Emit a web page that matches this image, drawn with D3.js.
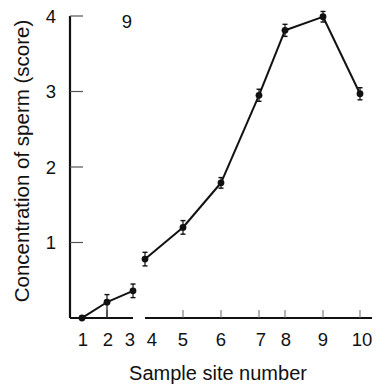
<!DOCTYPE html>
<html>
<head>
<meta charset="utf-8">
<script src="https://cdn.jsdelivr.net/npm/d3@7"></script>
<style>
  html, body { margin: 0; padding: 0; background: #fff; }
  svg { display: block; }
  text { font-family: "Liberation Sans", Arial, Helvetica, sans-serif; fill: #111; }
</style>
</head>
<body>
<svg id="chart" width="376" height="386"></svg>
<script>
// Sample sites along the tract, distance from site 1 (arbitrary units)
const sites = [1, 2, 3, 4, 5, 6, 7, 8, 9, 10];
const siteDistance = [0, 25, 51, 63, 101, 139, 177, 203, 241, 278];
// Mean sperm concentration score per site, with error limits
const meanScore = [0.0, 0.21, 0.36, 0.78, 1.2, 1.79, 2.95, 3.81, 3.99, 2.97];
const errLow = [0, 0.21, 0.09, 0.09, 0.09, 0.07, 0.08, 0.08, 0.07, 0.08];
const errHigh = [0, 0.1, 0.09, 0.09, 0.09, 0.07, 0.08, 0.08, 0.07, 0.08];
// Line is broken between these groups of sites
const segments = [[1, 2, 3], [4, 5, 6, 7, 8, 9, 10]];
const yTicks = [1, 2, 3, 4];
const panelLabel = "9";

const svg = d3.select("#chart");

const x = d3.scaleLinear().domain([-12, 290]).range([70, 372]);
const y = d3.scaleLinear().domain([0, 4]).range([318, 16]);

const data = sites.map((s, i) => ({
  site: s, d: siteDistance[i], v: meanScore[i], lo: errLow[i], hi: errHigh[i]
}));
const bySite = new Map(data.map(p => [p.site, p]));

// Y axis: line with inward ticks
svg.append("line")
  .attr("x1", x(-12)).attr("x2", x(-12))
  .attr("y1", y(4)).attr("y2", y(0))
  .attr("stroke", "#111").attr("stroke-width", 2.2);

svg.selectAll(".ytick").data(yTicks).enter().append("line")
  .attr("x1", x(-12)).attr("x2", x(-12) + 13)
  .attr("y1", d => y(d)).attr("y2", d => y(d))
  .attr("stroke", "#555").attr("stroke-width", 1.2);

svg.selectAll(".ylab").data(yTicks).enter().append("text")
  .attr("x", 56).attr("y", d => y(d))
  .attr("dy", "0.36em")
  .attr("text-anchor", "end")
  .attr("font-size", 18.5)
  .text(d => d);

// X axis, broken between the two site groups
const axisPieces = [
  [x(-12), x(bySite.get(3).d)],
  [x(bySite.get(4).d), x(290)]
];
svg.selectAll(".xaxis").data(axisPieces).enter().append("line")
  .attr("x1", d => d[0]).attr("x2", d => d[1])
  .attr("y1", y(0)).attr("y2", y(0))
  .attr("stroke", "#111").attr("stroke-width", 2.2);

svg.selectAll(".xtick").data(data.filter(p => p.site !== 1 && p.site !== 3 && p.site !== 4)).enter().append("line")
  .attr("x1", p => x(p.d)).attr("x2", p => x(p.d))
  .attr("y1", y(0)).attr("y2", y(0) - 8)
  .attr("stroke", "#666").attr("stroke-width", 1);

// Tick labels, nudged where sites sit close together
const labelNudge = { 1: 1, 2: 1, 3: -3, 4: 7, 7: 2, 8: 1, 10: 2 };
svg.selectAll(".xlab").data(data).enter().append("text")
  .attr("x", p => x(p.d) + (labelNudge[p.site] || 0))
  .attr("y", 346)
  .attr("text-anchor", "middle")
  .attr("font-size", 18.5)
  .text(p => p.site);

// Axis titles
svg.append("text")
  .attr("x", 218).attr("y", 380)
  .attr("text-anchor", "middle")
  .attr("font-size", 20)
  .text("Sample site number");

svg.append("text")
  .attr("transform", "translate(29,161) rotate(-90)")
  .attr("text-anchor", "middle")
  .attr("font-size", 20.5)
  .text("Concentration of sperm (score)");

svg.append("text")
  .attr("x", 127).attr("y", 28)
  .attr("text-anchor", "middle")
  .attr("font-size", 18.5)
  .text(panelLabel);

// Connecting lines, each segment pulled back slightly from the markers
const gap = 2.5;
segments.forEach(group => {
  for (let i = 0; i < group.length - 1; i++) {
    const a = bySite.get(group[i]), b = bySite.get(group[i + 1]);
    const x1 = x(a.d), y1 = y(a.v), x2 = x(b.d), y2 = y(b.v);
    const len = Math.hypot(x2 - x1, y2 - y1);
    const ux = (x2 - x1) / len, uy = (y2 - y1) / len;
    svg.append("line")
      .attr("x1", x1 + ux * gap).attr("y1", y1 + uy * gap)
      .attr("x2", x2 - ux * gap).attr("y2", y2 - uy * gap)
      .attr("stroke", "#111").attr("stroke-width", 2);
  }
});

// Error bars
const withErr = data.filter(p => p.lo > 0 || p.hi > 0);
const eb = svg.selectAll(".err").data(withErr).enter().append("g");
eb.append("line")
  .attr("x1", p => x(p.d)).attr("x2", p => x(p.d))
  .attr("y1", p => y(p.v + p.hi)).attr("y2", p => y(p.v - p.lo))
  .attr("stroke", "#111").attr("stroke-width", 1.2);
eb.append("line")
  .attr("x1", p => x(p.d) - 2.5).attr("x2", p => x(p.d) + 2.5)
  .attr("y1", p => y(p.v + p.hi)).attr("y2", p => y(p.v + p.hi))
  .attr("stroke", "#111").attr("stroke-width", 1.4);
eb.filter(p => p.v - p.lo > 0).append("line")
  .attr("x1", p => x(p.d) - 2.5).attr("x2", p => x(p.d) + 2.5)
  .attr("y1", p => y(p.v - p.lo)).attr("y2", p => y(p.v - p.lo))
  .attr("stroke", "#111").attr("stroke-width", 1.4);

// Markers
svg.selectAll(".pt").data(data).enter().append("circle")
  .attr("cx", p => x(p.d)).attr("cy", p => y(p.v))
  .attr("r", 3.4)
  .attr("fill", "#111");
</script>
</body>
</html>
